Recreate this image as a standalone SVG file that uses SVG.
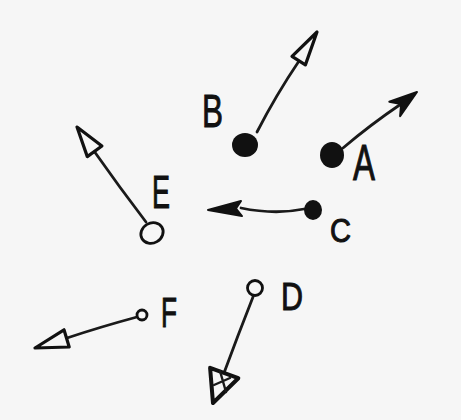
<svg xmlns="http://www.w3.org/2000/svg" width="461" height="420" viewBox="0 0 461 420">
  <style>
    .bg { fill: #f6f6f6; }
    .line { fill: none; stroke: #1a1a1a; stroke-width: 2.8; stroke-linecap: round; }
    .head-open { fill: #f6f6f6; stroke: #111; stroke-width: 3.2; stroke-linejoin: round; }
    .head-solid { fill: #111; stroke: #111; stroke-width: 2; stroke-linejoin: round; }
    .dot { fill: #111; }
    .ring { fill: #f6f6f6; stroke: #111; stroke-width: 2.8; }
    .label { font-family: "Liberation Sans", Arial, sans-serif; fill: #111; stroke: #111; stroke-width: 1; }
  </style>
  <rect class="bg" x="0" y="0" width="461" height="420"/>

  <g id="connectors">
    <path class="line" d="M257,132 Q276,95 299,61"/>
    <polygon class="head-open" points="317,32 305.4,64.9 292,56.3"/>

    <path class="line" d="M343,148 Q370,125 401,104"/>
    <polygon class="head-solid" points="417,92 400.1,116.1 401.1,104.1 389.3,101.7"/>

    <path class="line" d="M146,222 Q120,188 94,151"/>
    <polygon class="head-open" points="77,127 101.9,146 87.3,156.6"/>

    <path class="line" d="M304,209 Q275,215 241,208"/>
    <polygon class="head-solid" points="208,210 241,201 236,208.5 242,216"/>

    <path class="line" d="M137,317 Q100,327 67,338"/>
    <polygon class="head-open" points="35,348 64,329.8 69.2,347"/>

    <path class="line" d="M253,297 Q238,335 224,373"/>
    <polygon class="head-open" points="213,403 210.1,367.8 238.3,378.2" style="stroke-width:4"/>
    <path class="line" d="M220,371 L226,392 M214,385 L230,378" style="stroke-width:2.4"/>
  </g>

  <g id="node-A">
    <ellipse class="dot" cx="332" cy="155" rx="12" ry="13"/>
    <text class="label" x="353" y="180" font-size="50" textLength="22" lengthAdjust="spacingAndGlyphs">A</text>
  </g>
  <g id="node-B">
    <ellipse class="dot" cx="245" cy="145" rx="13" ry="12"/>
    <text class="label" x="202" y="127" font-size="47" textLength="21" lengthAdjust="spacingAndGlyphs">B</text>
  </g>
  <g id="node-C">
    <ellipse class="dot" cx="313" cy="210" rx="9" ry="10"/>
    <text class="label" x="330" y="242" font-size="33" textLength="21" lengthAdjust="spacingAndGlyphs">C</text>
  </g>
  <g id="node-D">
    <circle class="ring" cx="255" cy="288" r="7.5"/>
    <text class="label" x="281" y="310" font-size="39" textLength="22" lengthAdjust="spacingAndGlyphs">D</text>
  </g>
  <g id="node-E">
    <ellipse class="ring" cx="152" cy="233" rx="11.5" ry="10" transform="rotate(-30 152 233)"/>
    <text class="label" x="152" y="208" font-size="46" textLength="18" lengthAdjust="spacingAndGlyphs">E</text>
  </g>
  <g id="node-F">
    <circle class="ring" cx="142" cy="315" r="5"/>
    <text class="label" x="161" y="327" font-size="42" textLength="16" lengthAdjust="spacingAndGlyphs">F</text>
  </g>
</svg>
